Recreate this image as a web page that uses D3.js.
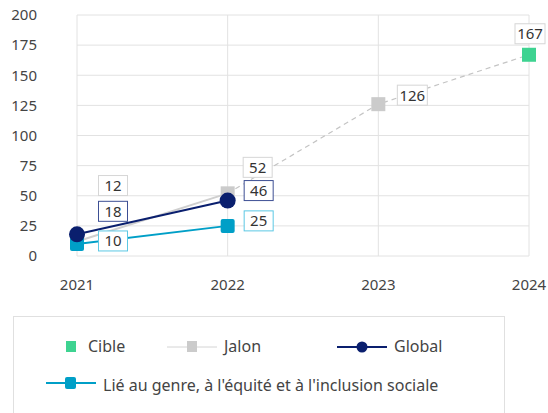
<!DOCTYPE html>
<html>
<head>
<meta charset="utf-8">
<script src="https://cdn.jsdelivr.net/npm/d3@7"></script>
<style>
  body { margin: 0; background: #fff; }
  svg { font-family: "Noto Sans", sans-serif; }
</style>
</head>
<body>
<svg id="chart" width="548" height="413"></svg>
<script>
// data
const years = [2021, 2022, 2023, 2024];
const yTicks = [0, 25, 50, 75, 100, 125, 150, 175, 200];
const jalon = [12, 52, 126, null];
const cible = [null, null, null, 167];
const globalVals = [18, 46, null, null];
const genre = [10, 25, null, null];
const legendNames = ["Cible", "Jalon", "Global", "Lié au genre, à l'équité et à l'inclusion sociale"];

const svg = d3.select("#chart");
const txt = "#444";

const x = d3.scalePoint().domain(years).range([77, 529]);
const y = d3.scaleLinear().domain([0, 200]).range([256, 15]);

// grid
const grid = svg.append("g");
grid.selectAll(".h").data(yTicks).enter().append("line")
  .attr("x1", 77).attr("x2", 529)
  .attr("y1", d => y(d)).attr("y2", d => y(d))
  .attr("stroke", "#e2e2e2").attr("stroke-width", 1);
grid.selectAll(".v").data(years).enter().append("line")
  .attr("x1", d => x(d)).attr("x2", d => x(d))
  .attr("y1", y(0)).attr("y2", y(200))
  .attr("stroke", "#e2e2e2").attr("stroke-width", 1);

// axes labels
svg.append("g").selectAll("text").data(yTicks).enter().append("text")
  .attr("x", 37).attr("y", d => y(d)).attr("dy", "0.35em")
  .attr("text-anchor", "end").attr("font-size", 15).attr("fill", txt)
  .text(d => d);
svg.append("g").selectAll("text").data(years).enter().append("text")
  .attr("x", d => x(d)).attr("y", 285).attr("dy", "0.35em")
  .attr("text-anchor", "middle").attr("font-size", 15).attr("fill", txt)
  .text(d => d);

const pts = arr => arr.map((v, i) => ({year: years[i], v})).filter(d => d.v != null);

// jalon lines: solid 2021-2022, dashed onwards to target
const jp = pts(jalon);
const line = d3.line().x(d => x(d.year)).y(d => y(d.v));
svg.append("path").attr("d", line(jp.slice(0, 2)))
  .attr("fill", "none").attr("stroke", "#cfcfcf").attr("stroke-width", 2);
svg.append("path").attr("d", line(jp.slice(1).concat(pts(cible))))
  .attr("fill", "none").attr("stroke", "#c4c4c4").attr("stroke-width", 1.2)
  .attr("stroke-dasharray", "5,4");

// genre
const gp = pts(genre);
svg.append("path").attr("d", line(gp))
  .attr("fill", "none").attr("stroke", "#009fc7").attr("stroke-width", 2);
// global
const glp = pts(globalVals);
svg.append("path").attr("d", line(glp))
  .attr("fill", "none").attr("stroke", "#0a1f6e").attr("stroke-width", 2);

// markers
svg.append("g").selectAll("rect").data(jp).enter().append("rect")
  .attr("x", d => x(d.year) - 7).attr("y", d => y(d.v) - 7)
  .attr("width", 14).attr("height", 14).attr("fill", "#cbcbcb");
svg.append("g").selectAll("rect").data(gp).enter().append("rect")
  .attr("x", d => x(d.year) - 7).attr("y", d => y(d.v) - 7)
  .attr("width", 14).attr("height", 14).attr("rx", 2).attr("fill", "#009fc7");
svg.append("g").selectAll("circle").data(glp).enter().append("circle")
  .attr("cx", d => x(d.year)).attr("cy", d => y(d.v)).attr("r", 8)
  .attr("fill", "#0a1f6e");
svg.append("g").selectAll("rect").data(pts(cible)).enter().append("rect")
  .attr("x", d => x(d.year) - 7).attr("y", d => y(d.v) - 7)
  .attr("width", 14).attr("height", 14).attr("fill", "#3ed391");

// data labels (offsets placed to avoid overlap, like the original)
const labelStyle = {
  jalon: {stroke: "#d6d6d6", off: [[36, -56], [30, -26], [34, -9]]},
  cible: {stroke: "#d6d6d6", off: [[1, -21]]},
  global: {stroke: "#3d4f94", off: [[36, -23], [31, -10]]},
  genre: {stroke: "#5cc8e4", off: [[36, -3], [31, -5]]}
};
function labels(points, key) {
  const st = labelStyle[key];
  points.forEach((d, i) => {
    const [dx, dy] = st.off[i];
    const cx = x(d.year) + dx, cy = y(d.v) + dy;
    const s = String(d.v);
    const w = s.length > 2 ? 30 : 29;
    svg.append("rect").attr("x", cx - w / 2).attr("y", cy - 10)
      .attr("width", w).attr("height", 20)
      .attr("fill", "#fff").attr("stroke", st.stroke).attr("stroke-width", 1);
    svg.append("text").attr("x", cx).attr("y", cy).attr("dy", "0.36em")
      .attr("text-anchor", "middle").attr("font-size", 15).attr("fill", "#333")
      .text(s);
  });
}
labels(jp, "jalon");
labels(pts(cible), "cible");
labels(glp, "global");
labels(gp, "genre");

// legend
svg.append("rect").attr("x", 13.5).attr("y", 316.5).attr("width", 491).attr("height", 110)
  .attr("fill", "#fff").attr("stroke", "#e0e0e0");
const lg = svg.append("g").attr("font-size", 16).attr("fill", txt);
// Cible
lg.append("rect").attr("x", 66).attr("y", 341).attr("width", 10).attr("height", 11).attr("fill", "#3ed391");
lg.append("text").attr("x", 88).attr("y", 346).attr("dy", "0.35em").attr("fill", txt).text(legendNames[0]);
// Jalon
lg.append("line").attr("x1", 167).attr("x2", 217).attr("y1", 347).attr("y2", 347).attr("stroke", "#d4d4d4");
lg.append("rect").attr("x", 187).attr("y", 341).attr("width", 10).attr("height", 11).attr("fill", "#cbcbcb");
lg.append("text").attr("x", 224).attr("y", 346).attr("dy", "0.35em").attr("fill", txt).text(legendNames[1]);
// Global
lg.append("line").attr("x1", 337).attr("x2", 387).attr("y1", 347).attr("y2", 347).attr("stroke", "#0a1f6e").attr("stroke-width", 2);
lg.append("circle").attr("cx", 362).attr("cy", 347).attr("r", 5.5).attr("fill", "#0a1f6e");
lg.append("text").attr("x", 394).attr("y", 346).attr("dy", "0.35em").attr("fill", txt).text(legendNames[2]);
// Genre
lg.append("line").attr("x1", 46).attr("x2", 96).attr("y1", 383).attr("y2", 383).attr("stroke", "#009fc7").attr("stroke-width", 2);
lg.append("rect").attr("x", 65).attr("y", 377).attr("width", 11).attr("height", 12).attr("rx", 2).attr("fill", "#009fc7");
lg.append("text").attr("x", 103).attr("y", 385).attr("dy", "0.35em").attr("fill", txt).text(legendNames[3]);
</script>
</body>
</html>
